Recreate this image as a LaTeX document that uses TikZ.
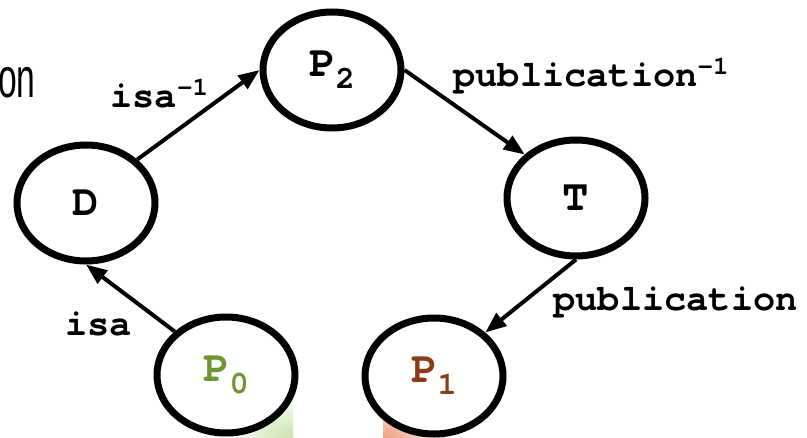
\documentclass[tikz,border=0pt]{standalone}
\usepackage{graphicx}
\usepackage{fontspec}
\setmainfont{Liberation Sans}
\newfontfamily\courbf{texgyrecursor-bold.otf}
\usetikzlibrary{arrows.meta,shapes.geometric,positioning}
\definecolor{pzero}{RGB}{112,150,50}
\definecolor{pone}{RGB}{140,58,25}
\definecolor{glowgreen}{RGB}{196,224,164}
\definecolor{gloworange}{RGB}{238,150,115}
\newcommand{\psub}[1]{\raisebox{-6pt}{\fontsize{16}{18}\selectfont #1}}

\tikzset{
  state/.style={ellipse, draw, line width=3.5pt, fill=white, minimum width=69pt,
    minimum height=58pt, inner sep=0pt, font=\fontsize{22}{26}\selectfont\courbf},
  link/.style={line width=2pt, -{Triangle[length=10.5pt,width=8pt]}},
  lbl/.style={inner sep=0pt, font=\fontsize{18.5}{22}\selectfont\courbf}
}

\begin{document}
\begin{tikzpicture}[x=0.5pt, y=-0.5pt]
  \useasboundingbox (0,0) rectangle (807,438);
  % faint glow under the two end states
  \begin{scope}
    \clip (230,400) rectangle (293,438);
    \shade[inner color=glowgreen, outer color=white] (293,442) ellipse (32pt and 24pt);
  \end{scope}
  \begin{scope}
    \clip (383,400) rectangle (450,438);
    \shade[inner color=gloworange, outer color=white] (383,442) ellipse (34pt and 24pt);
  \end{scope}

  \node[anchor=base east, inner sep=0pt, font=\fontsize{28}{30}\selectfont] (cut) at (36,98) {\scalebox{0.6}[1]{on}};

  \node[state] (D) at (86,203) {D};
  \node[state] (P2) at (332,70) {P\psub{2}};
  \node[state] (T) at (576,198) {T};
  \node[state, text=pzero] (P0) at (226,375) {P\psub{0}};
  \node[state, text=pone] (P1) at (434,376) {P\psub{1}};

  \draw[link] (P0.north west) -- (D.south);
  \draw[link] (D.north east) -- (P2.west);
  \draw[link] (P2.east) -- (T.north west);
  \draw[link] (T.south) -- (P1.north east);

  \node[lbl, anchor=base west] (isainv) at (110,108) {isa\textsuperscript{-1}};
  \node[lbl, anchor=base west] (pubinv) at (453,87) {publication\textsuperscript{-1}};
  \node[lbl, anchor=base west] (pub) at (553,310) {publication};
  \node[lbl, anchor=base west] (isa) at (65,335) {isa};
\end{tikzpicture}
\end{document}
